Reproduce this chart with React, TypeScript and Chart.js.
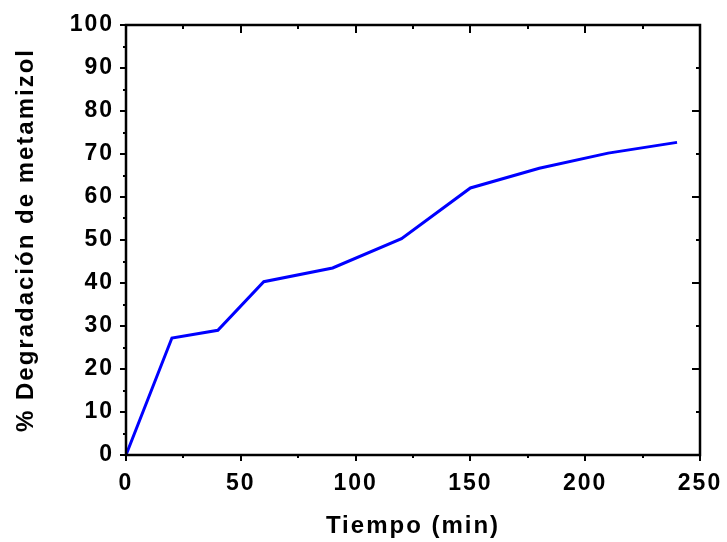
import React, { useEffect, useRef } from "react";
import { Chart, registerables } from "chart.js";

Chart.register(...registerables);

const timeMin = [0, 20, 40, 60, 90, 120, 150, 180, 210, 240];
const degradation = [0, 27.2, 29, 40.3, 43.5, 50.3, 62.1, 66.7, 70.2, 72.7];
const xMax = 250;
const yMax = 100;
const xLabelStep = 50;
const xMinorStep = 25;
const yLabelStep = 10;
const yMinorStep = 5;
const rightMajorStep = 20;
const rightMinorStep = 10;
const xTitle = "Tiempo (min)";
const yTitle = "% Degradación de metamizol";

const FONT = "'Liberation Sans', Arial, sans-serif";

const framePlugin = {
  id: "frame",
  beforeDraw(chart: any) {
    chart.ctx.letterSpacing = "2px";
  },
  afterDraw(chart: any) {
    const { ctx, chartArea: a, scales } = chart;
    const x = scales.x;
    const y = scales.y;
    ctx.save();
    ctx.letterSpacing = "0px";
    ctx.strokeStyle = "#000";
    ctx.lineCap = "butt";
    const seg = (x1: number, y1: number, x2: number, y2: number) => {
      ctx.beginPath();
      ctx.moveTo(x1, y1);
      ctx.lineTo(x2, y2);
      ctx.stroke();
    };
    ctx.lineWidth = 2;
    for (let v = 0; v <= xMax; v += xMinorStep) {
      const px = Math.round(x.getPixelForValue(v));
      const major = v % xLabelStep === 0;
      seg(px, a.bottom, px, a.bottom + (major ? 6 : 3));
      seg(px, a.top, px, a.top + (major ? 8 : 4));
    }
    for (let v = 0; v <= yMax; v += yMinorStep) {
      const py = Math.round(y.getPixelForValue(v));
      const major = v % yLabelStep === 0;
      seg(a.left, py, a.left - (major ? 6 : 3), py);
    }
    for (let v = 0; v <= yMax; v += rightMinorStep) {
      const py = Math.round(y.getPixelForValue(v));
      const major = v % rightMajorStep === 0;
      seg(a.right, py, a.right - (major ? 8 : 4), py);
    }
    ctx.lineWidth = 2.5;
    ctx.strokeRect(a.left, a.top, a.right - a.left, a.bottom - a.top);
    ctx.restore();
  },
};

export default function App() {
  const ref = useRef<HTMLCanvasElement | null>(null);
  useEffect(() => {
    if (!ref.current) return;
    const chart = new Chart(ref.current, {
      type: "line",
      data: {
        datasets: [
          {
            data: timeMin.map((t, i) => ({ x: t, y: degradation[i] })),
            borderColor: "#0000ff",
            borderWidth: 3,
            pointRadius: 0,
            tension: 0,
            fill: false,
          },
        ],
      },
      options: {
        animation: false,
        responsive: false,
        maintainAspectRatio: false,
        layout: { padding: { left: 0, top: 25, right: 27, bottom: 0 } },
        plugins: { legend: { display: false }, tooltip: { enabled: false } },
        scales: {
          x: {
            type: "linear",
            min: 0,
            max: xMax,
            afterFit: (s: any) => {
              s.height = 87;
              s.paddingLeft = 0;
              s.paddingRight = 0;
            },
            grid: { display: true, drawOnChartArea: false, drawTicks: false },
            border: { display: false },
            ticks: {
              stepSize: xLabelStep,
              padding: 15,
              color: "#000",
              font: { family: FONT, size: 23, weight: "bold" },
              maxRotation: 0,
            },
            title: {
              display: true,
              text: xTitle,
              color: "#000",
              padding: { top: 0, bottom: 1 },
              font: { family: FONT, size: 24, weight: "bold" },
            },
          },
          y: {
            type: "linear",
            min: 0,
            max: yMax,
            afterFit: (s: any) => {
              s.width = 126;
              s.paddingTop = 0;
              s.paddingBottom = 0;
            },
            grid: { display: true, drawOnChartArea: false, drawTicks: false },
            border: { display: false },
            ticks: {
              stepSize: yLabelStep,
              padding: 12,
              color: "#000",
              font: { family: FONT, size: 23, weight: "bold" },
            },
            title: {
              display: true,
              text: yTitle,
              color: "#000",
              padding: { top: 12, bottom: 0 },
              font: { family: FONT, size: 24, weight: "bold" },
            },
          },
        },
      },
      plugins: [framePlugin],
    } as any);
    return () => chart.destroy();
  }, []);
  return (
    <div style={{ position: "fixed", left: 0, top: 0, width: 727, height: 542, background: "#fff" }}>
      <canvas ref={ref} width={727} height={542} style={{ width: 727, height: 542 }} />
    </div>
  );
}
